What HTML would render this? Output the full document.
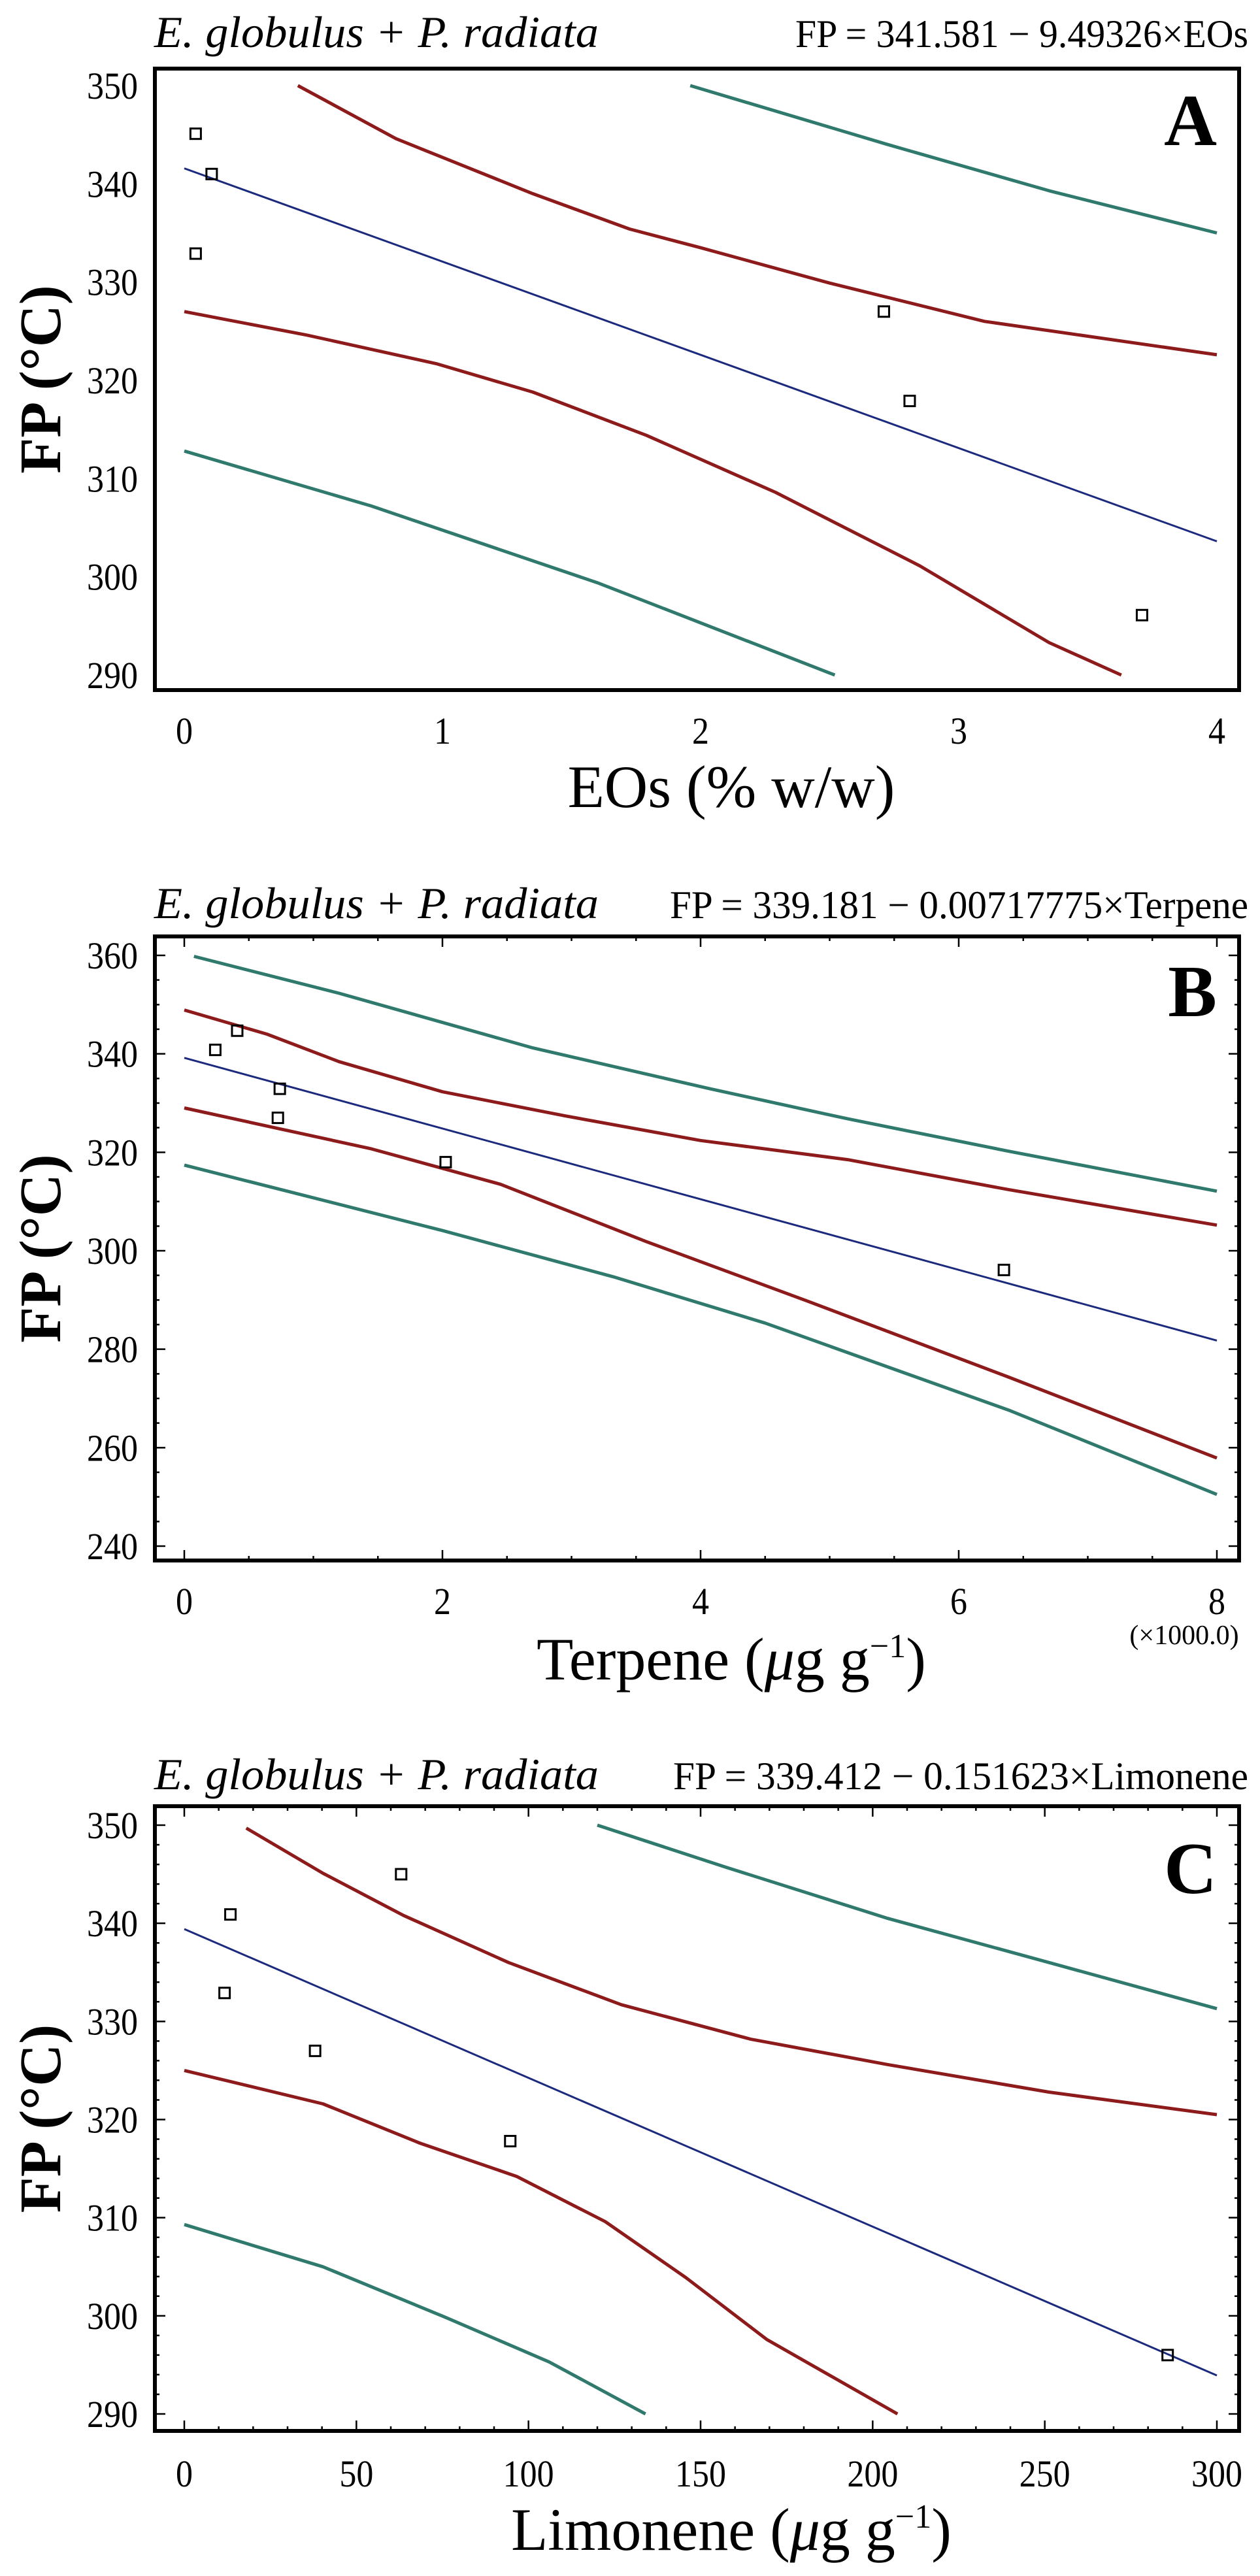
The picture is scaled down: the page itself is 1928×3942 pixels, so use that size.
<!DOCTYPE html>
<html><head><meta charset="utf-8">
<style>
html,body{margin:0;padding:0;background:#fff;}
svg{display:block;font-family:"Liberation Serif",serif;}
</style></head>
<body>
<svg id="chart" width="1928" height="3942" viewBox="0 0 1928 3942" xmlns="http://www.w3.org/2000/svg"></svg>
<script>
// ---------- Panel A data (EOs % w/w) ----------
const aPointsX = [0.044, 0.106, 0.044, 2.71, 2.81, 3.71];
const aPointsY = [345.1, 341.0, 332.9, 327.0, 317.9, 296.1];
const aFitX = [0, 4];
const aFitY = [341.581, 303.608];
const aRedUpX = [0.44, 0.82, 1.35, 1.725, 2.0, 2.5, 3.1, 4.0];
const aRedUpY = [350, 344.6, 339.0, 335.4, 333.5, 329.9, 326.0, 322.6];
const aRedLoX = [0, 0.475, 0.975, 1.35, 1.79, 2.29, 2.85, 3.35, 3.63];
const aRedLoY = [327.0, 324.6, 321.7, 318.8, 314.4, 308.6, 301.1, 293.3, 290];
const aGrnUpX = [1.96, 2.725, 3.35, 4.0];
const aGrnUpY = [350, 344.0, 339.3, 335.0];
const aGrnLoX = [0, 0.725, 1.6, 2.52];
const aGrnLoY = [312.8, 307.2, 299.4, 290];
const aXTicks = [0, 1, 2, 3, 4];
const aYTicks = [290, 300, 310, 320, 330, 340, 350];

// ---------- Panel B data (Terpene x1000) ----------
const bPointsX = [0.24, 0.41, 0.74, 0.725, 2.025, 6.35];
const bPointsY = [340.8, 344.7, 332.9, 327.0, 318.0, 296.1];
const bFitX = [0, 8];
const bFitY = [339.181, 281.759];
const bGrnUpX = [0.075, 1.2, 2.7, 4.075, 5.14, 6.39, 8];
const bGrnUpY = [359.8, 352.3, 341.2, 332.9, 326.8, 320.2, 312.1];
const bRedUpX = [0, 0.64, 1.2, 2.0, 2.95, 4.0, 5.14, 6.39, 8];
const bRedUpY = [348.9, 344.0, 338.4, 332.3, 327.4, 322.4, 318.5, 312.4, 305.2];
const bRedLoX = [0, 1.45, 2.45, 3.575, 4.825, 6.39, 8];
const bRedLoY = [329.0, 320.7, 313.5, 301.9, 289.8, 274.3, 257.9];
const bGrnLoX = [0, 2.0, 3.325, 4.5, 6.39, 8];
const bGrnLoY = [317.4, 304.1, 294.7, 285.3, 267.6, 250.5];
const bXTicks = [0, 2, 4, 6, 8];
const bYTicks = [240, 260, 280, 300, 320, 340, 360];

// ---------- Panel C data (Limonene) ----------
const cPointsX = [13.4, 63, 11.7, 38, 94.7, 285.7];
const cPointsY = [340.9, 345.0, 332.9, 327.0, 317.8, 296.0];
const cFitX = [0, 300];
const cFitY = [339.412, 293.925];
const cRedUpX = [18, 40.3, 63.7, 94.2, 127, 164.5, 204.4, 251.2, 300];
const cRedUpY = [349.7, 345.1, 340.8, 336.0, 331.7, 328.2, 325.6, 322.8, 320.5];
const cRedLoX = [0, 40.3, 68.4, 96.6, 122.3, 145.7, 169.2, 207.2];
const cRedLoY = [325.0, 321.6, 317.6, 314.2, 309.6, 303.9, 297.6, 290];
const cGrnUpX = [120, 157.5, 204.4, 251.2, 300];
const cGrnUpY = [350, 345.7, 340.5, 336.0, 331.3];
const cGrnLoX = [0, 40.3, 75.5, 106, 134];
const cGrnLoY = [309.3, 305.0, 299.9, 295.3, 290];
const cXTicks = [0, 50, 100, 150, 200, 250, 300];
const cYTicks = [290, 300, 310, 320, 330, 340, 350];

const NS = "http://www.w3.org/2000/svg";
const svg = document.getElementById('chart');
function mk(tag, attrs, parent, text){
  const e = document.createElementNS(NS, tag);
  for (const k in attrs) e.setAttribute(k, attrs[k]);
  if (text !== undefined) e.textContent = text;
  (parent || svg).appendChild(e);
  return e;
}
const BLUE = '#1c2a7e', RED = '#8e1b1b', GRN = '#2f7a6c';

function panel(cfg){
  const g = mk('g', {});
  
  
  const X0 = 282, X1 = 1862;
  const sx = v => X0 + (v - cfg.xmin) / (cfg.xmax - cfg.xmin) * (X1 - X0);
  const sy = v => cfg.yTopPx + (cfg.ytop - v) / (cfg.ytop - cfg.ybot) * (cfg.yBotPx - cfg.yTopPx);
  const L = 237, R = 1896, T = cfg.frameTop, B = cfg.frameBot;

  // titles
  const t1 = mk('text', {x: 236, y: cfg.titleY, 'font-size': 68, 'font-style': 'italic', textLength: 680, lengthAdjust: 'spacingAndGlyphs'}, g, 'E. globulus + P. radiata');
  
  
  const t2 = mk('text', {x: 1910, y: cfg.titleY, 'font-size': 60, 'text-anchor': 'end', textLength: cfg.eqLen, lengthAdjust: 'spacingAndGlyphs'}, g, cfg.eq);
  
  

  // ticks
  if (cfg.minorX){
    for (let v = cfg.xmin; v <= cfg.xmax + 1e-9; v += cfg.minorX){
      const major = Math.abs(v / cfg.majorX - Math.round(v / cfg.majorX)) < 1e-6;
      const len = major ? 16 : 7;
      const tk = mk('path', {d: `M${sx(v)},${B} v${-len} M${sx(v)},${T} v${len}`, stroke: '#000', 'stroke-width': 2.5}, g);
      
      
    }
    for (let v = cfg.ybot; v <= cfg.ytop + 1e-9; v += cfg.minorY){
      const major = Math.abs((v - cfg.ybot) / cfg.majorY - Math.round((v - cfg.ybot) / cfg.majorY)) < 1e-6;
      const len = major ? 16 : 7;
      const tk = mk('path', {d: `M${L},${sy(v)} h${len} M${R},${sy(v)} h${-len}`, stroke: '#000', 'stroke-width': 2.5}, g);
      
      
    }
  }
  // tick labels
  cfg.yTicks.forEach(v => {
    const t = mk('text', {x: 211, y: sy(v) + 20, 'font-size': 58, 'text-anchor': 'end', textLength: 26 * String(v).length, lengthAdjust: 'spacingAndGlyphs'}, g, String(v));
    
    
  });
  cfg.xTicks.forEach(v => {
    const s = String(v);
    const t = mk('text', {x: sx(v), y: cfg.xLabY + 20, 'font-size': 58, 'text-anchor': 'middle', textLength: 26 * s.length, lengthAdjust: 'spacingAndGlyphs'}, g, s);
    
    
  });

  // curves
  function line(xs, ys, col, w, nm){
    const d = xs.map((x, i) => (i ? 'L' : 'M') + sx(x).toFixed(1) + ',' + sy(ys[i]).toFixed(1)).join(' ');
    const p = mk('path', {d: d, fill: 'none', stroke: col, 'stroke-width': w, 'stroke-linejoin': 'round'}, g);
    
    
  }
  line(cfg.gUX, cfg.gUY, GRN, 5, 'prediction-limit-upper');
  line(cfg.gLX, cfg.gLY, GRN, 5, 'prediction-limit-lower');
  line(cfg.rUX, cfg.rUY, RED, 5, 'confidence-limit-upper');
  line(cfg.rLX, cfg.rLY, RED, 5, 'confidence-limit-lower');
  line(cfg.fX, cfg.fY, BLUE, 3, 'fitted-line');

  cfg.pX.forEach((x, i) => {
    const r = mk('rect', {x: sx(x) - 8, y: sy(cfg.pY[i]) - 8, width: 16, height: 16, fill: 'none', stroke: '#000', 'stroke-width': 3}, g);
    
    
  });

  // frame
  const fr = mk('rect', {x: L, y: T, width: R - L, height: B - T, fill: 'none', stroke: '#000', 'stroke-width': 6}, g);
  
  

  // panel letter
  const pl = mk('text', {x: 1862, y: cfg.letterY, 'font-size': 112, 'font-weight': 'bold', 'text-anchor': 'end'}, g, cfg.letter);
  
  

  // axis titles
  const yt = mk('text', {x: 0, y: 0, 'font-size': 90, 'font-weight': 'bold', 'text-anchor': 'middle', transform: `translate(92,${(T + B) / 2}) rotate(-90)`}, g, 'FP (°C)');
  
  
  const xt = mk('text', {x: 1119, y: cfg.xTitleY + 30, 'font-size': 92, 'text-anchor': 'middle'}, g);
  
  
  if (cfg.unit){
    mk('tspan', {}, xt, cfg.xTitle + ' (');
    mk('tspan', {'font-style': 'italic'}, xt, 'μ');
    mk('tspan', {}, xt, 'g g');
    mk('tspan', {dy: -34, 'font-size': 52}, xt, '−1');
    mk('tspan', {dy: 34}, xt, ')');
  } else {
    xt.textContent = cfg.xTitle;
  }
  if (cfg.mult){
    const m = mk('text', {x: 1812, y: cfg.mult, 'font-size': 42, 'text-anchor': 'middle'}, g, '(×1000.0)');
    
    
  }
}

panel({name: 'panel-a-eos', letter: 'A', titleY: 72, eq: 'FP = 341.581 − 9.49326×EOs', eqLen: 693,
  frameTop: 105, frameBot: 1056, xmin: 0, xmax: 4, ytop: 350, ybot: 290, yTopPx: 131, yBotPx: 1033,
  xTicks: aXTicks, yTicks: aYTicks, xLabY: 1118, xTitle: 'EOs (% w/w)', xTitleY: 1205, letterY: 222,
  pX: aPointsX, pY: aPointsY, fX: aFitX, fY: aFitY, rUX: aRedUpX, rUY: aRedUpY, rLX: aRedLoX, rLY: aRedLoY,
  gUX: aGrnUpX, gUY: aGrnUpY, gLX: aGrnLoX, gLY: aGrnLoY});

panel({name: 'panel-b-terpene', letter: 'B', titleY: 1405, eq: 'FP = 339.181 − 0.00717775×Terpene', eqLen: 885,
  frameTop: 1433, frameBot: 2388, xmin: 0, xmax: 8, ytop: 360, ybot: 240, yTopPx: 1462, yBotPx: 2366,
  minorX: 0.5, majorX: 2, minorY: 5, majorY: 20,
  xTicks: bXTicks, yTicks: bYTicks, xLabY: 2450, xTitle: 'Terpene', unit: true, xTitleY: 2540, letterY: 1555, mult: 2516,
  pX: bPointsX, pY: bPointsY, fX: bFitX, fY: bFitY, rUX: bRedUpX, rUY: bRedUpY, rLX: bRedLoX, rLY: bRedLoY,
  gUX: bGrnUpX, gUY: bGrnUpY, gLX: bGrnLoX, gLY: bGrnLoY});

panel({name: 'panel-c-limonene', letter: 'C', titleY: 2738, eq: 'FP = 339.412 − 0.151623×Limonene', eqLen: 880,
  frameTop: 2764, frameBot: 3720, xmin: 0, xmax: 300, ytop: 350, ybot: 290, yTopPx: 2793, yBotPx: 3694,
  minorX: 10, majorX: 50, minorY: 2, majorY: 10,
  xTicks: cXTicks, yTicks: cYTicks, xLabY: 3785, xTitle: 'Limonene', unit: true, xTitleY: 3872, letterY: 2897,
  pX: cPointsX, pY: cPointsY, fX: cFitX, fY: cFitY, rUX: cRedUpX, rUY: cRedUpY, rLX: cRedLoX, rLY: cRedLoY,
  gUX: cGrnUpX, gUY: cGrnUpY, gLX: cGrnLoX, gLY: cGrnLoY});
</script>
</body></html>
